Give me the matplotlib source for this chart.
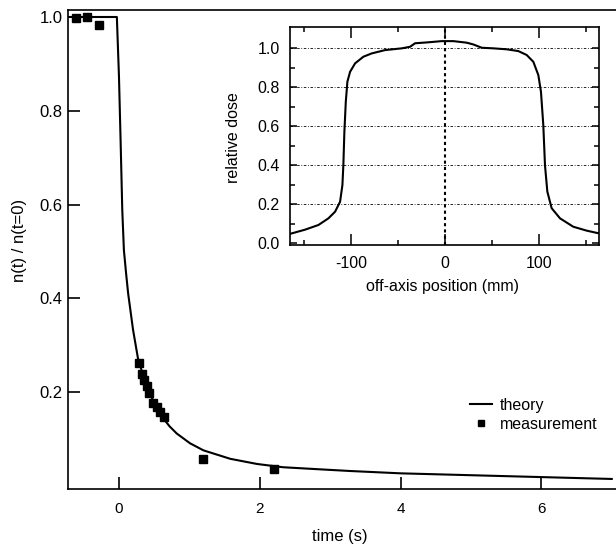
import numpy as np
import matplotlib.pyplot as plt
from matplotlib.lines import Line2D

plt.rcParams['font.family'] = ['Liberation Sans', 'DejaVu Sans']

# theory curve n(t)/n(t=0)
t_theory = [-0.72, -0.03, 0.0, 0.024, 0.047, 0.07, 0.1, 0.13, 0.2, 0.27, 0.35, 0.44, 0.53,
            0.63, 0.72, 0.82, 1.01, 1.2, 1.58, 1.96, 2.33, 2.8, 3.28, 4.0, 5.0, 6.0, 7.0]
n_theory = [1.0, 1.0, 0.873, 0.731, 0.588, 0.503, 0.455, 0.411, 0.333, 0.272, 0.232, 0.197, 0.168,
            0.144, 0.127, 0.112, 0.091, 0.076, 0.058, 0.047, 0.040, 0.036, 0.032, 0.027, 0.023, 0.019, 0.015]

# measured points
t_meas = [-0.61, -0.45, -0.28, 0.28, 0.33, 0.36, 0.40, 0.43, 0.48, 0.54, 0.58, 0.64, 1.2, 2.2]
n_meas = [0.998, 1.0, 0.983, 0.262, 0.238, 0.226, 0.213, 0.198, 0.177, 0.168, 0.157, 0.147, 0.057, 0.037]

# inset: dose profile
x_prof = [-165, -148.6, -134.4, -123.8, -116.7, -111.4, -108.9, -107.9, -106.8, -105.3, -103.6,
          -100.7, -95.4, -86.6, -77.7, -63.5, -45.7, -36.9, -31.6, -17.4, -3.2, 9.2, 23.4, 30.4,
          39.4, 51.7, 66, 78.3, 87.2, 94.3, 99.6, 102.4, 104.9, 106.7, 109.2, 113.8, 122.7, 136.8,
          151, 165]
dose_prof = [0.048, 0.070, 0.094, 0.128, 0.162, 0.213, 0.299, 0.40, 0.572, 0.726, 0.829,
             0.88, 0.923, 0.957, 0.974, 0.991, 1.0, 1.008, 1.026, 1.031, 1.037, 1.037, 1.029, 1.02,
             1.003, 1.0, 0.995, 0.986, 0.966, 0.931, 0.863, 0.778, 0.607, 0.40, 0.265, 0.18, 0.128,
             0.085, 0.065, 0.050]

main_yticks = [0.2, 0.4, 0.6, 0.8, 1.0]
main_xticks = [0, 2, 4, 6]
inset_xticks = [-100, 0, 100]
inset_yticks = [0.0, 0.2, 0.4, 0.6, 0.8, 1.0]

W, H = 616, 547
fig = plt.figure(figsize=(W / 100, H / 100), dpi=100)

ax = fig.add_axes([68 / W, 1 - 489 / H, 554 / W, 479 / H])
ax.plot(t_theory, n_theory, color='black', lw=1.5, label='theory')
ax.plot(t_meas, n_meas, 's', color='black', ms=6, label='measurement')
ax.set_xlim(-0.724, -0.724 + 554 / 70.4)
ax.set_ylim(-0.0064, -0.0064 + 479 / 469)
ax.set_xticks(main_xticks)
ax.set_xticklabels([str(v) for v in main_xticks], fontsize=11)
ax.set_yticks(main_yticks)
ax.set_yticklabels(['%.1f' % v for v in main_yticks], fontsize=12)
ax.tick_params(axis='both', direction='in', length=8.6, width=1.2, top=False, right=False)
ax.tick_params(axis='x', pad=9.5)
ax.tick_params(axis='y', pad=4)
for s in ax.spines.values():
    s.set_linewidth(1.2)
ax.spines['right'].set_visible(False)

ax.legend(handles=[Line2D([], [], color='black', lw=1.5),
                   Line2D([], [], ls='', marker='s', color='black', ms=5)],
          labels=['theory', 'measurement'], frameon=False, loc='upper left',
          bbox_to_anchor=(470 / W, 1 - 398 / H), bbox_transform=fig.transFigure,
          borderpad=0, borderaxespad=0, handlelength=1.4, handletextpad=0.45,
          labelspacing=0.25, fontsize=11.5, numpoints=1)

fig.text(20 / W, 1 - 240 / H, 'n(t) / n(t=0)', rotation=90, ha='center', va='center', fontsize=12)
fig.text(340 / W, 1 - 537 / H, 'time (s)', ha='center', va='center', fontsize=12)

# inset
axin = fig.add_axes([289.7 / W, 1 - 245 / H, 309.6 / W, 218.3 / H])
axin.plot(x_prof, dose_prof, color='black', lw=1.5)
axin.axvline(0, color='black', lw=1.5, ls=(0, (1.5, 1.5)))
for v in inset_yticks[1:]:
    axin.axhline(v, color='black', lw=0.6, ls=(0, (3, 2, 1, 2)))
axin.set_xlim(-165, 164.5)
axin.set_ylim(-0.0087, 1.111)
axin.set_xticks(inset_xticks)
axin.set_xticklabels(['-100', '0', '100'], fontsize=11.5)
axin.set_xticks([-150, -50, 50, 150], minor=True)
axin.set_yticks(inset_yticks)
axin.set_yticklabels(['%.1f' % v for v in inset_yticks], fontsize=11.5)
axin.set_yticks(np.arange(0.1, 1.1, 0.2), minor=True)
axin.tick_params(axis='both', which='both', direction='in', top=True, right=True, width=1.1)
axin.tick_params(axis='x', which='major', length=8, pad=8)
axin.tick_params(axis='x', which='minor', length=3.8)
axin.tick_params(axis='y', which='major', length=5, pad=7)
axin.tick_params(axis='y', which='minor', length=3.5)
for s in axin.spines.values():
    s.set_linewidth(1.2)

fig.text(442 / W, 1 - 287 / H, 'off-axis position (mm)', ha='center', va='center', fontsize=11.5)
fig.text(234 / W, 1 - 138 / H, 'relative dose', rotation=90, ha='center', va='center', fontsize=11.5)

fig.savefig('out.png', dpi=100)
